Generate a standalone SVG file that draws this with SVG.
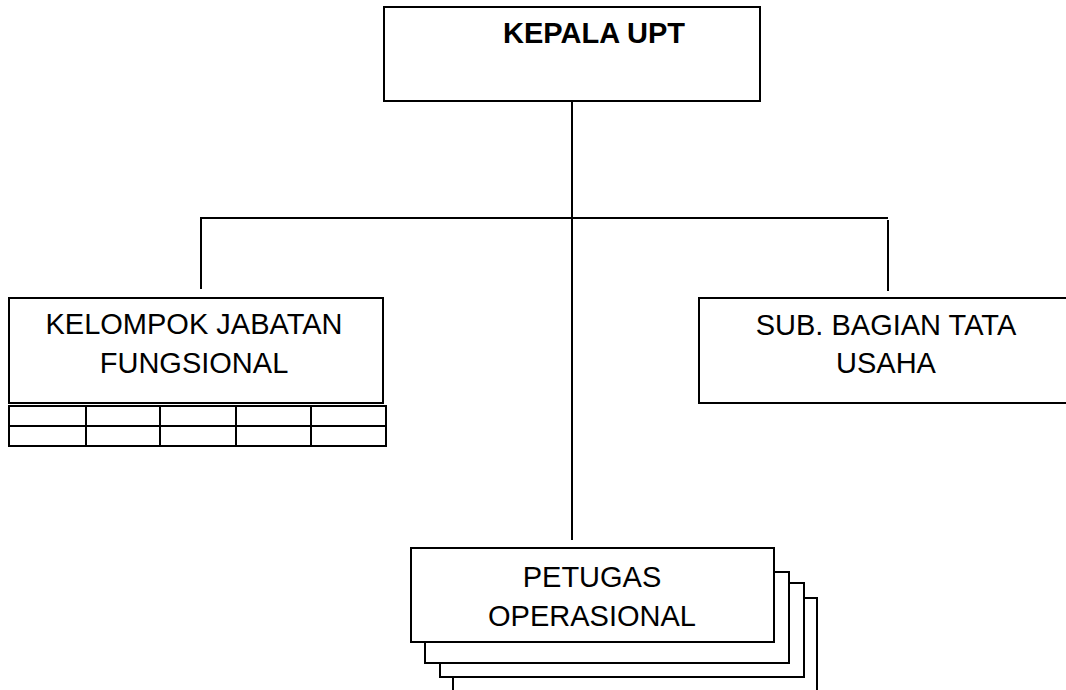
<svg xmlns="http://www.w3.org/2000/svg" width="1066" height="690" viewBox="0 0 1066 690">
<style>
.box{fill:#fff;stroke:#000;stroke-width:2}
.ln{fill:none;stroke:#000;stroke-width:2}
.t{font-family:"Liberation Sans",Arial,sans-serif;font-size:29px;fill:#000;text-anchor:middle}
.b{font-weight:bold;text-anchor:start}
</style>
<rect width="1066" height="690" fill="#fff"/>
<g id="connectors">
<line class="ln" x1="572" y1="101" x2="572" y2="540"/>
<line class="ln" x1="200" y1="218" x2="888" y2="218"/>
<line class="ln" x1="201" y1="218" x2="201" y2="289"/>
<line class="ln" x1="888" y1="220" x2="888" y2="291"/>
</g>
<g id="kepala">
<rect class="box" x="384" y="7" width="376" height="94"/>
<text class="t b" x="503" y="43">KEPALA UPT</text>
</g>
<g id="kelompok">
<rect class="box" x="9" y="298" width="374" height="105"/>
<text class="t" x="194" y="334">KELOMPOK JABATAN</text>
<text class="t" x="194" y="373">FUNGSIONAL</text>
<rect class="box" x="9" y="406" width="377" height="40"/>
<line class="ln" x1="9" y1="426" x2="386" y2="426"/>
<line class="ln" x1="86" y1="406" x2="86" y2="446"/>
<line class="ln" x1="160" y1="406" x2="160" y2="446"/>
<line class="ln" x1="236" y1="406" x2="236" y2="446"/>
<line class="ln" x1="311" y1="406" x2="311" y2="446"/>
</g>
<g id="subbagian">
<rect class="box" x="699" y="298" width="400" height="105"/>
<text class="t" x="886" y="335">SUB. BAGIAN TATA</text>
<text class="t" x="886" y="373">USAHA</text>
</g>
<g id="petugas">
<rect class="box" x="453" y="598" width="364" height="120"/>
<rect class="box" x="440" y="583" width="364" height="94"/>
<rect class="box" x="425" y="572" width="364" height="91"/>
<rect class="box" x="411" y="548" width="363" height="94"/>
<text class="t" x="592" y="587">PETUGAS</text>
<text class="t" x="592" y="626">OPERASIONAL</text>
</g>
</svg>
